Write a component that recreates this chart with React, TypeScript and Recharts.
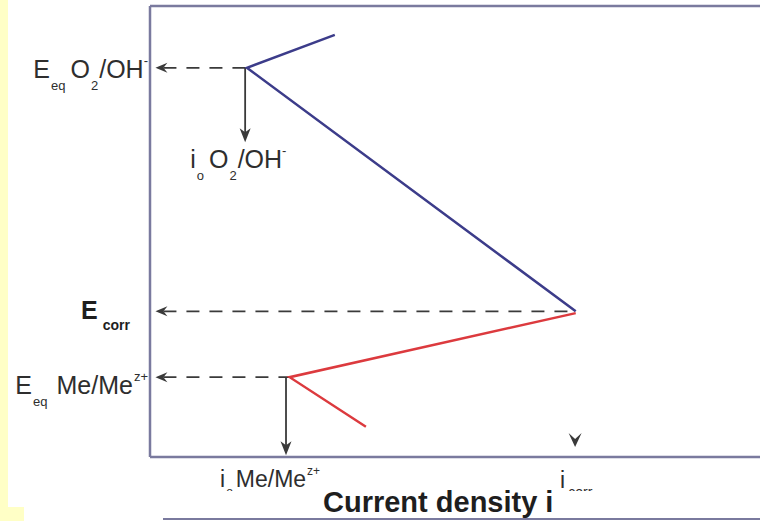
import React from 'react';
import { LineChart, Line, XAxis, YAxis, ReferenceLine, ReferenceDot } from 'recharts';

const FONT = '"Liberation Sans", Arial, Helvetica, sans-serif';
const TEXT = '#2e2e2e';
const ARROW = '#3a3a3a';
const FRAME = '#7a7a9e';
const BLUE = '#3c3c8a';
const RED = '#dc3a3e';

// Evans diagram. x = log current density (0-100 units), y = potential (0-100 units)
const cathodicO2 = [
  { i: 30.3, E: 93.6 },
  { i: 15.9, E: 86.3 },
  { i: 69.8, E: 32.3 },
];
const anodicMe = [
  { i: 69.8, E: 31.9 },
  { i: 22.9, E: 17.7 },
  { i: 35.4, E: 6.7 },
];
const potentialLevels = [86.3, 32.3, 17.7]; // E_eq O2/OH-, E_corr, E_eq Me/Me z+
const currentLevels = [15.6, 22.3, 69.7]; // i0 O2/OH-, i0 Me/Me z+, i_corr
const currentDomain = [0, 101];
const potentialDomain = [0, 100];
const o2ArrowEnd = 69.8;
const meArrowEnd = 0.4;
const icorrMarkE = 2.2;
const axisTitle = 'Current density i';

type Seg = { t: string; k?: 'sub' | 'sup'; dx?: number };
const labelEO2: Seg[] = [{ t: 'E' }, { t: 'eq', k: 'sub', dx: 1 }, { t: 'O', dx: 5 }, { t: '2', k: 'sub', dx: 1 }, { t: '/OH', dx: 1 }, { t: '-', k: 'sup' }];
const labelEcorr: Seg[] = [{ t: 'E' }, { t: 'corr', k: 'sub', dx: 5 }];
const labelEMe: Seg[] = [{ t: 'E' }, { t: 'eq', k: 'sub', dx: 1 }, { t: 'Me/Me', dx: 9 }, { t: 'z+', k: 'sup', dx: 1 }];
const labelI0O2: Seg[] = [{ t: 'i' }, { t: 'o', k: 'sub', dx: 1 }, { t: 'O', dx: 5 }, { t: '2', k: 'sub', dx: 1 }, { t: '/OH', dx: 1 }, { t: '-', k: 'sup' }];
const labelI0Me: Seg[] = [{ t: 'i' }, { t: 'o', k: 'sub', dx: 1 }, { t: 'Me/Me', dx: 3 }, { t: 'z+', k: 'sup', dx: 1 }];
const labelIcorr: Seg[] = [{ t: 'i' }, { t: 'corr', k: 'sub', dx: 3 }];

function Rich(props: any) {
  const { x, y, segs, size, subSize, subShift, supShift, anchor = 'start', weight = 'normal', fill = TEXT, clipPath } = props;
  let cur = 0;
  return (
    <text x={x} y={y} fontFamily={FONT} fontSize={size} fontWeight={weight} fill={fill} textAnchor={anchor} clipPath={clipPath}>
      {segs.map((s: Seg, idx: number) => {
        const target = s.k === 'sub' ? subShift : s.k === 'sup' ? -supShift : 0;
        const dy = target - cur;
        cur = target;
        return (
          <tspan key={idx} dy={dy} dx={s.dx ?? 0} fontSize={s.k ? subSize : size}>
            {s.t}
          </tspan>
        );
      })}
    </text>
  );
}

function YTick(props: any) {
  const { x, y, payload } = props;
  const v = payload.value;
  if (v === potentialLevels[0]) {
    return <Rich x={x - 2} y={y + 10} segs={labelEO2} size={25} subSize={13} subShift={12} supShift={13} anchor="end" />;
  }
  if (v === potentialLevels[1]) {
    return <Rich x={x - 20} y={y + 8} segs={labelEcorr} size={25} subSize={14} subShift={11} supShift={12} anchor="end" weight="bold" fill="#1e1e1e" />;
  }
  return <Rich x={x - 2} y={y + 17} segs={labelEMe} size={25} subSize={13} subShift={12} supShift={13} anchor="end" />;
}

function XTick(props: any) {
  const { x, y, payload, index } = props;
  const v = payload.value;
  const id = `xclip-${index}`;
  const clip = (
    <defs>
      <clipPath id={id}>
        <rect x={0} y={0} width={760} height={491} />
      </clipPath>
    </defs>
  );
  if (v === currentLevels[1]) {
    return (
      <g>
        {clip}
        <Rich x={x - 66} y={y + 30} segs={labelI0Me} size={23} subSize={12} subShift={9} supShift={12} clipPath={`url(#${id})`} />
      </g>
    );
  }
  return (
    <g>
      {clip}
      <Rich x={x - 15} y={y + 31} segs={labelIcorr} size={23} subSize={14} subShift={9} supShift={12} clipPath={`url(#${id})`} />
    </g>
  );
}

function LeftArrowDashed(p: any) {
  const { x1, y1, x2, y2 } = p;
  const tx = Math.min(x1, x2) + 3;
  const ex = Math.max(x1, x2);
  return (
    <g>
      <line x1={tx + 8} y1={y1} x2={ex} y2={y2} stroke={ARROW} strokeWidth={1.8} strokeDasharray="13 10" />
      <polygon points={`${tx},${y1} ${tx + 12},${y1 - 5} ${tx + 8},${y1} ${tx + 12},${y1 + 5}`} fill={ARROW} />
    </g>
  );
}

function DownArrow(p: any) {
  const { x1, y1, x2, y2 } = p;
  const top = Math.min(y1, y2);
  const tip = Math.max(y1, y2);
  return (
    <g>
      <line x1={x1} y1={top} x2={x2} y2={tip - 9} stroke={ARROW} strokeWidth={1.8} />
      <polygon points={`${x2},${tip} ${x2 - 5.5},${tip - 14} ${x2},${tip - 10} ${x2 + 5.5},${tip - 14}`} fill={ARROW} />
    </g>
  );
}

function Chevron(p: any) {
  const { cx, cy } = p;
  return <polygon points={`${cx},${cy} ${cx - 6.5},${cy - 14} ${cx},${cy - 8} ${cx + 6.5},${cy - 14}`} fill={ARROW} />;
}

function I0O2Label(p: any) {
  const { cx, cy } = p;
  return <Rich x={cx - 55} y={cy + 26} segs={labelI0O2} size={25} subSize={13} subShift={12} supShift={13} />;
}

function AxisTitle(p: any) {
  const vb = p.viewBox || {};
  return (
    <text x={(vb.x ?? 150) + 173} y={(vb.y ?? 457) + 55} fontFamily={FONT} fontSize={29} fontWeight="bold" fill="#1e1e1e">
      {axisTitle}
    </text>
  );
}

export default function App() {
  return (
    <div style={{ position: 'absolute', left: 0, top: 0, width: 760, height: 521, background: '#ffffff', overflow: 'hidden' }}>
      <div style={{ position: 'absolute', left: 0, top: 0, width: 8, height: 521, background: '#ffffc6' }} />
      <div style={{ position: 'absolute', left: 0, top: 507, width: 24, height: 14, background: '#ffffc6' }} />
      <div style={{ position: 'absolute', left: 163, top: 518, width: 597, height: 2, background: FRAME }} />
      <div style={{ position: 'absolute', left: 0, top: 0, width: 760, height: 521, overflow: 'hidden' }}>
        <LineChart width={772} height={521} margin={{ top: 5, right: 6, bottom: 63, left: 149 }}>
          <XAxis
            type="number"
            dataKey="i"
            domain={currentDomain}
            ticks={[currentLevels[1], currentLevels[2]]}
            interval={0}
            tick={<XTick />}
            tickLine={false}
            tickSize={0}
            tickMargin={0}
            height={1}
            axisLine={{ stroke: FRAME, strokeWidth: 2.5 }}
            label={<AxisTitle />}
            allowDataOverflow
          />
          <XAxis
            xAxisId="top"
            orientation="top"
            type="number"
            domain={currentDomain}
            tick={false}
            tickLine={false}
            height={1}
            axisLine={{ stroke: FRAME, strokeWidth: 2.5 }}
          />
          <YAxis
            type="number"
            domain={potentialDomain}
            ticks={potentialLevels}
            interval={0}
            tick={<YTick />}
            tickLine={false}
            tickSize={0}
            tickMargin={0}
            width={1}
            axisLine={{ stroke: FRAME, strokeWidth: 2.5 }}
            allowDataOverflow
          />
          <ReferenceLine segment={[{ x: 0.4, y: potentialLevels[0] }, { x: cathodicO2[1].i, y: potentialLevels[0] }]} shape={LeftArrowDashed} />
          <ReferenceLine segment={[{ x: 0.4, y: potentialLevels[1] }, { x: cathodicO2[2].i, y: potentialLevels[1] }]} shape={LeftArrowDashed} />
          <ReferenceLine segment={[{ x: 0.4, y: potentialLevels[2] }, { x: anodicMe[1].i, y: potentialLevels[2] }]} shape={LeftArrowDashed} />
          <ReferenceLine segment={[{ x: currentLevels[0], y: potentialLevels[0] }, { x: currentLevels[0], y: o2ArrowEnd }]} shape={DownArrow} />
          <ReferenceLine segment={[{ x: currentLevels[1], y: potentialLevels[2] }, { x: currentLevels[1], y: meArrowEnd }]} shape={DownArrow} />
          <ReferenceDot x={currentLevels[2]} y={icorrMarkE} r={0} shape={Chevron} />
          <ReferenceDot x={currentLevels[0]} y={o2ArrowEnd} r={0} shape={I0O2Label} />
          <Line data={cathodicO2} dataKey="E" type="linear" stroke={BLUE} strokeWidth={2.5} dot={false} isAnimationActive={false} />
          <Line data={anodicMe} dataKey="E" type="linear" stroke={RED} strokeWidth={2.5} dot={false} isAnimationActive={false} />
        </LineChart>
      </div>
    </div>
  );
}
